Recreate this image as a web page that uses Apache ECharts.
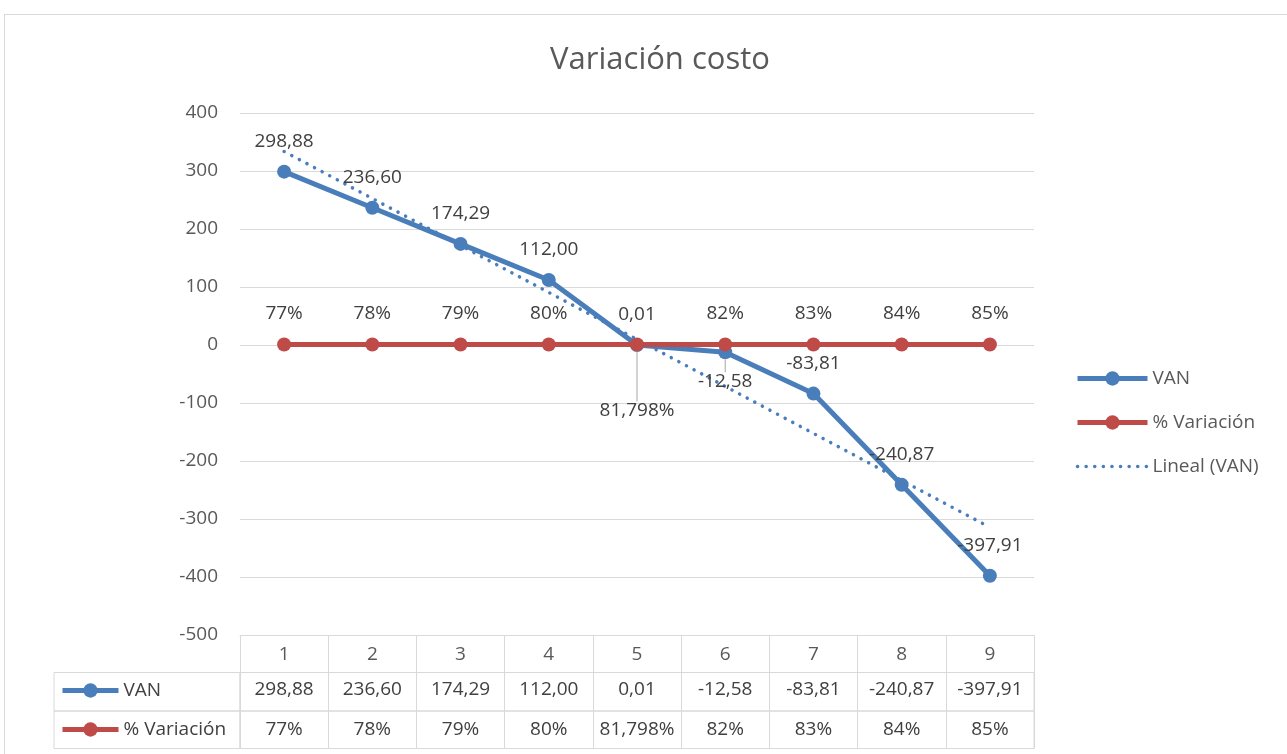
<!DOCTYPE html>
<html>
<head>
<meta charset="utf-8">
<script src="https://cdn.jsdelivr.net/npm/echarts@6/dist/echarts.min.js"></script>
<style>
html,body{margin:0;padding:0;background:#fff;}
#wrap{position:relative;width:1287px;height:754px;overflow:hidden;}
#frame{position:absolute;left:4px;top:14px;width:1400px;height:900px;border:1px solid #D9D9D9;box-sizing:border-box;}
#chart{position:absolute;left:0;top:0;width:1287px;height:754px;}
</style>
</head>
<body>
<div id="wrap"><div id="frame"></div><div id="chart"></div></div>
<script>
const title = 'Variación costo';
const categories = ['1','2','3','4','5','6','7','8','9'];
const vanValues = [298.88, 236.60, 174.29, 112.00, 0.01, -12.58, -83.81, -240.87, -397.91];
const pctValues = [0.77, 0.78, 0.79, 0.80, 0.81798, 0.82, 0.83, 0.84, 0.85];
const yMin = -500, yMax = 400, yStep = 100;

// linear trend of VAN (least squares on x = 1..n)
const n = vanValues.length;
const xs = vanValues.map((_, i) => i + 1);
const xMean = xs.reduce((a, b) => a + b, 0) / n;
const yMean = vanValues.reduce((a, b) => a + b, 0) / n;
let sxy = 0, sxx = 0;
xs.forEach((x, i) => { sxy += (x - xMean) * (vanValues[i] - yMean); sxx += (x - xMean) * (x - xMean); });
const slope = sxy / sxx, intercept = yMean - slope * xMean;
const trendValues = xs.map(x => intercept + slope * x);

const fmtVan = v => v.toFixed(2).replace('.', ',');
const fmtPct = v => String(Number((v * 100).toFixed(3))).replace('.', ',') + '%';

const FONT = '"Open Sans", "Noto Sans", sans-serif';
const BLUE = '#4A7EBB', RED = '#BE4B48', GRID = '#D9D9D9', TXT = '#404040', AX = '#595959';
const FS = 19;
const GUIDE = { show: true, lineStyle: { color: '#A6A6A6', width: 1 } };

// label displacement (style only): which points get moved labels with a leader line
const vanMoved = { 5: 60 };
const pctMoved = { 4: 97 };

function labelSeries(name, values, moved, fmt) {
  return {
    name: name, type: 'scatter', xAxisIndex: 0, yAxisIndex: 0, z: 10, silent: true,
    data: values.map((v, i) => (i in moved ? { value: v, labelLine: GUIDE } : v)),
    symbol: 'circle', symbolSize: 14, itemStyle: { color: 'rgba(0,0,0,0)', opacity: 1 },
    emphasis: { disabled: true },
    label: { show: true, position: 'top', distance: 14, fontSize: FS, color: TXT, fontFamily: FONT,
      opacity: 1, formatter: p => fmt(p.value) },
    labelLine: { show: false },
    labelLayout: p => (p.dataIndex in moved ? { dy: moved[p.dataIndex] } : {})
  };
}

const L = 240, R = 1287 - 1034;
const option = {
  animation: false,
  backgroundColor: 'transparent',
  textStyle: { fontFamily: FONT },
  tooltip: { show: false },
  title: { text: title, top: 40, left: 655, textAlign: 'center',
    textStyle: { fontFamily: FONT, fontSize: 31, fontWeight: 'normal', color: AX } },
  legend: [
    { data: [
        { name: 'VAN' },
        { name: '% Variación' },
        { name: 'Lineal (VAN)', itemStyle: { opacity: 0 }, lineStyle: { width: 3.5 } }
      ],
      orient: 'vertical', left: 1075, top: 369, padding: 0,
      itemWidth: 70, itemHeight: 18, itemGap: 25, selectedMode: false,
      lineStyle: { width: 5 },
      textStyle: { fontFamily: FONT, fontSize: FS, color: AX } },
    { data: ['VAN'], left: 60, top: 681, padding: 0, itemWidth: 56, itemHeight: 18, selectedMode: false,
      lineStyle: { width: 5 },
      textStyle: { fontFamily: FONT, fontSize: FS, color: TXT } },
    { data: ['% Variación'], left: 60, top: 720, padding: 0, itemWidth: 56, itemHeight: 18, selectedMode: false,
      lineStyle: { width: 5 },
      textStyle: { fontFamily: FONT, fontSize: FS, color: TXT } }
  ],
  grid: [
    { left: L, right: R, top: 113, height: 522 },
    { left: L, right: R, top: 672.5, height: 38.5, show: true, borderColor: GRID, borderWidth: 1 },
    { left: L, right: R, top: 711, height: 37.5, show: true, borderColor: GRID, borderWidth: 1 },
    { left: 54, width: 186, top: 672.5, height: 38.5, show: true, borderColor: GRID, borderWidth: 1 },
    { left: 54, width: 186, top: 711, height: 37.5, show: true, borderColor: GRID, borderWidth: 1 }
  ],
  xAxis: [
    { gridIndex: 0, type: 'category', data: categories, boundaryGap: true,
      axisLine: { show: true, onZero: false, lineStyle: { color: GRID } },
      axisTick: { show: true, interval: 0, length: 38, lineStyle: { color: GRID } },
      axisLabel: { margin: 20, verticalAlign: 'middle', fontSize: FS, color: AX, fontFamily: FONT },
      splitLine: { show: false } },
    { gridIndex: 1, type: 'category', data: vanValues.map(fmtVan), boundaryGap: true,
      axisLine: { show: false }, axisTick: { show: false },
      splitLine: { show: true, interval: 0, lineStyle: { color: GRID } },
      axisLabel: { margin: -21, verticalAlign: 'middle', fontSize: FS, color: TXT, fontFamily: FONT, interval: 0 } },
    { gridIndex: 2, type: 'category', data: pctValues.map(fmtPct), boundaryGap: true,
      axisLine: { show: false }, axisTick: { show: false },
      splitLine: { show: true, interval: 0, lineStyle: { color: GRID } },
      axisLabel: { margin: -19, verticalAlign: 'middle', fontSize: FS, color: TXT, fontFamily: FONT, interval: 0 } },
    { gridIndex: 3, type: 'category', data: [''], show: false },
    { gridIndex: 4, type: 'category', data: [''], show: false }
  ],
  yAxis: [
    { gridIndex: 0, type: 'value', min: yMin, max: yMax, interval: yStep,
      axisLine: { show: false }, axisTick: { show: false },
      axisLabel: { margin: 22, fontSize: FS, color: AX, fontFamily: FONT },
      splitLine: { lineStyle: { color: GRID, width: 1 } } },
    { gridIndex: 1, type: 'value', show: false },
    { gridIndex: 2, type: 'value', show: false },
    { gridIndex: 3, type: 'value', show: false },
    { gridIndex: 4, type: 'value', show: false }
  ],
  series: [
    { name: 'VAN', type: 'line', xAxisIndex: 0, yAxisIndex: 0, z: 3, data: vanValues,
      symbol: 'circle', symbolSize: 14, color: BLUE,
      lineStyle: { width: 5, color: BLUE }, itemStyle: { color: BLUE },
      emphasis: { disabled: true } },
    { name: '% Variación', type: 'line', xAxisIndex: 0, yAxisIndex: 0, z: 4, data: pctValues,
      symbol: 'circle', symbolSize: 14, color: RED,
      lineStyle: { width: 5, color: RED }, itemStyle: { color: RED },
      emphasis: { disabled: true } },
    { name: 'Lineal (VAN)', type: 'line', xAxisIndex: 0, yAxisIndex: 0, data: trendValues, z: 2,
      showSymbol: false, symbol: 'none', color: BLUE, silent: true,
      lineStyle: { width: 3.5, color: BLUE, type: [0.1, 8.5], cap: 'round' },
      emphasis: { disabled: true } },
    labelSeries('etiquetas VAN', vanValues, vanMoved, fmtVan),
    labelSeries('etiquetas % Variación', pctValues, pctMoved, fmtPct)
  ]
};
const chart = echarts.init(document.getElementById('chart'), null, { renderer: 'canvas' });
chart.setOption(option);
</script>
</body>
</html>
